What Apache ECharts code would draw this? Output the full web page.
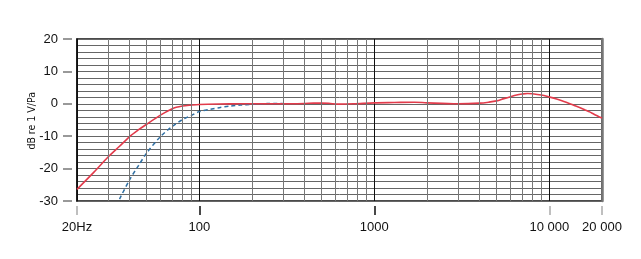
<!DOCTYPE html>
<html><head><meta charset="utf-8">
<script src="https://cdn.jsdelivr.net/npm/echarts@6/dist/echarts.min.js"></script>
<style>html,body{margin:0;padding:0;background:#fff}#c{width:641px;height:259px}</style>
</head><body><div id="c"></div>
<script>
// Data
const redFreq = [20,25,30,35,40,45,50,60,70,80,90,100,130,170,200,300,400,450,500,550,620,760,1000,1300,1700,2000,3000,4000,4500,5000,5500,6000,6500,7000,7500,8000,9000,10000,11000,12000,13000,14000,15000,16000,17000,18000,20000];
const redDb   = [-26.4,-21.1,-16.5,-13.1,-10.1,-8.0,-6.3,-3.5,-1.5,-0.7,-0.4,-0.2,-0.05,0,0,0,0.1,0.2,0.2,0.15,-0.1,0,0.3,0.4,0.5,0.3,0,0.2,0.5,0.9,1.6,2.2,2.7,3.0,3.2,3.1,2.7,2.1,1.5,0.8,0.1,-0.6,-1.2,-1.9,-2.5,-3.2,-4.4];
const blueFreq = [35,40,45,50,60,70,80,90,100,115,130,150,172,200,250,300];
const blueDb   = [-29.4,-23.4,-19.0,-15.2,-10.1,-7.0,-4.9,-3.6,-2.4,-1.7,-1.2,-0.7,-0.4,-0.15,0.1,0.1];
const xTicks = [20,100,1000,10000,20000];
const xTickLabels = {20:'20Hz',100:'100',1000:'1000',10000:'10 000',20000:'20 000'};
const xDarkTicks = [100,1000];
const xMinorGrid = [30,40,50,60,70,80,90,200,300,400,500,600,700,800,900,2000,3000,4000,5000,6000,7000,8000,9000];
const yTitle = 'dB re 1 V/Pa';

const font = "'Liberation Sans', Arial, sans-serif";
const chart = echarts.init(document.getElementById('c'), null, {renderer:'canvas'});
const hiddenLine = {show:true,onZero:false,lineStyle:{color:'rgba(0,0,0,0)',width:0}};
chart.setOption({
  animation:false,
  grid:{left:77,right:39,top:39,bottom:58,show:true,borderColor:'#111',borderWidth:1.5,backgroundColor:'transparent'},
  xAxis:[
    {type:'log', logBase:10, min:20, max:20000, position:'bottom', offset:5,
      axisLine:hiddenLine,
      axisTick:{show:true,length:9,customValues:xTicks,lineStyle:{color:'#aaa',width:1.5}},
      axisLabel:{show:true,customValues:xTicks,margin:15,fontSize:13,color:'#111',fontFamily:font,
        formatter:v=>xTickLabels[Math.round(v)]||''},
      splitLine:{show:true,lineStyle:{color:'#111',width:1}}
    },
    {type:'log', logBase:10, min:20, max:20000, position:'bottom', offset:5,
      axisLine:hiddenLine,
      axisTick:{show:true,length:9,customValues:xDarkTicks,lineStyle:{color:'#222',width:1.5}},
      axisLabel:{show:false}, splitLine:{show:false}
    }
  ],
  yAxis:[
    {type:'value',min:-30,max:20,interval:2,position:'left',
      axisLine:{show:true,onZero:false,lineStyle:{color:'#111',width:1.5}},
      axisTick:{show:false},axisLabel:{show:false},
      splitLine:{show:true,lineStyle:{color:'#666',width:1}}},
    {type:'value',min:-30,max:20,interval:10,position:'left',offset:5,
      axisLine:{show:false,onZero:false},
      axisTick:{show:true,length:9,lineStyle:{color:'#999',width:2}},
      axisLabel:{show:true,margin:14,fontSize:13,color:'#111',fontFamily:font},
      splitLine:{show:false}},
    {type:'value',min:-30,max:20,interval:10,position:'right',
      axisLine:{show:true,onZero:false,lineStyle:{color:'#777',width:2.5}},
      axisTick:{show:false},axisLabel:{show:false},splitLine:{show:false}}
  ],
  graphic:[{type:'text',left:27,top:92,rotation:Math.PI/2,silent:true,
    style:{text:yTitle,fontSize:10.5,fontFamily:"'Liberation Sans Narrow','DejaVu Sans Condensed',Arial,sans-serif",fill:'#111'}}],
  series:[
    {type:'line',xAxisIndex:0,yAxisIndex:0,data:[],silent:true,
      markLine:{silent:true,symbol:['none','none'],label:{show:false},
        lineStyle:{color:'#777',width:1,type:'solid'},
        data:xMinorGrid.map(v=>({xAxis:v}))}},
    {type:'line',xAxisIndex:0,yAxisIndex:0,showSymbol:false,smooth:0.3,z:3,
      data:blueFreq.map((f,i)=>[f,blueDb[i]]),
      lineStyle:{color:'#2f6fa3',width:1.5,type:[4,3]}},
    {type:'line',xAxisIndex:0,yAxisIndex:0,showSymbol:false,smooth:0.3,z:4,
      data:redFreq.map((f,i)=>[f,redDb[i]]),
      lineStyle:{color:'#e23b4b',width:1.6}}
  ]
});
</script></body></html>
